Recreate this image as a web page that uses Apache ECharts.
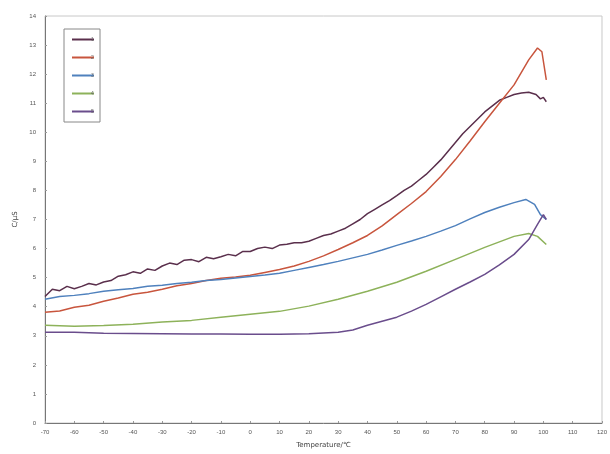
<!DOCTYPE html>
<html>
<head>
<meta charset="utf-8">
<script src="https://cdn.jsdelivr.net/npm/echarts@6/dist/echarts.min.js"></script>
<style>
html,body{margin:0;padding:0;background:#fff;}
#chart{width:610px;height:454px;}
</style>
</head>
<body>
<div id="chart"></div>
<script>
// Conductivity vs temperature for five samples
const seriesNames = ['1', '2', '3', '4', '5'];
const xTicks = { min: -70, max: 120, step: 10 };
const yTicks = { min: 0, max: 14, step: 1 };

const tempA = [-70,-67.5,-65,-62.5,-60,-57.5,-55,-52.5,-50,-47.5,-45,-42.5,-40,-37.5,-35,-32.5,-30,-27.5,-25,-22.5,-20,-17.5,-15,-12.5,-10,-7.5,-5,-2.5,0,2.5,5,7.5,10,12.5,15,17.5,20,22.5,25,27.5,30,32.5,35,37.5,40,42.5,45,47.5,50,52.5,55,57.5,60,62.5,65,67.5,70,72.5,75,77.5,80,82.5,85,87.5,90,92.5,95,97.5,99,100,101];
const condA = [4.35,4.6,4.55,4.7,4.62,4.7,4.8,4.75,4.85,4.9,5.05,5.1,5.2,5.15,5.3,5.25,5.4,5.5,5.45,5.6,5.62,5.55,5.7,5.65,5.72,5.8,5.75,5.9,5.9,6.0,6.05,6.0,6.12,6.15,6.2,6.2,6.25,6.35,6.45,6.5,6.6,6.7,6.85,7.0,7.2,7.35,7.5,7.65,7.82,8.0,8.15,8.35,8.55,8.8,9.05,9.35,9.65,9.95,10.2,10.45,10.7,10.9,11.1,11.2,11.3,11.35,11.38,11.3,11.15,11.2,11.05];

const tempB = [-70,-65,-60,-55,-50,-45,-40,-35,-30,-25,-20,-15,-10,-5,0,5,10,15,20,25,30,35,40,45,50,55,60,65,70,75,80,85,90,95,98,99.5,101];
const condB = [3.81,3.85,3.98,4.05,4.19,4.3,4.43,4.5,4.6,4.72,4.8,4.9,4.98,5.02,5.08,5.18,5.28,5.4,5.56,5.75,5.97,6.2,6.45,6.78,7.17,7.55,7.96,8.48,9.06,9.7,10.36,11.0,11.63,12.49,12.9,12.77,11.8];

const tempC = [-70,-65,-60,-55,-50,-45,-40,-35,-30,-25,-20,-15,-10,-5,0,5,10,15,20,25,30,35,40,45,50,55,60,65,70,75,80,85,90,94,97,99,101];
const condC = [4.26,4.35,4.39,4.45,4.53,4.58,4.63,4.7,4.74,4.8,4.84,4.9,4.94,4.99,5.04,5.09,5.15,5.25,5.35,5.45,5.56,5.68,5.8,5.95,6.11,6.26,6.42,6.6,6.79,7.02,7.24,7.42,7.58,7.69,7.52,7.17,7.0];

const tempD = [-70,-60,-50,-40,-30,-20,-10,0,10,20,30,40,50,60,70,80,90,95,98,101];
const condD = [3.36,3.33,3.35,3.4,3.47,3.53,3.64,3.74,3.84,4.02,4.26,4.53,4.84,5.22,5.63,6.04,6.42,6.52,6.42,6.14];

const tempE = [-70,-60,-50,-40,-30,-20,-10,0,10,20,30,35,40,45,50,55,60,65,70,75,80,85,90,95,98,100,101];
const condE = [3.12,3.12,3.09,3.08,3.07,3.06,3.06,3.05,3.05,3.07,3.12,3.2,3.36,3.5,3.64,3.85,4.08,4.34,4.6,4.85,5.11,5.44,5.8,6.31,6.83,7.17,7.0];

const temps = [tempA, tempB, tempC, tempD, tempE];
const conds = [condA, condB, condC, condD, condE];
const colors = ['#5a2f4c', '#c8553d', '#4f81bd', '#8db25a', '#6a4d8c'];

function pairs(t, v) { return t.map((x, i) => [x, v[i]]); }

const chart = echarts.init(document.getElementById('chart'), null, { renderer: 'canvas' });
chart.setOption({
  animation: false,
  backgroundColor: '#fff',
  grid: { left: 45, right: 8, top: 16, bottom: 30, show: true, borderColor: '#c8c8c8', borderWidth: 1 },
  legend: {
    orient: 'vertical',
    left: 64, top: 29,
    width: 44,
    padding: [8, 6, 8, 8],
    itemGap: 13,
    itemWidth: 22, itemHeight: 8,
    borderColor: '#888', borderWidth: 1,
    icon: 'path://M0,3.5 L22,3.5 L22,5.5 L0,5.5 Z',
    textStyle: { fontSize: 5, color: '#666', padding: [0, 0, 0, -8] },
    data: seriesNames
  },
  xAxis: {
    type: 'value',
    min: xTicks.min, max: xTicks.max, interval: xTicks.step,
    name: 'Temperature/℃', nameLocation: 'middle', nameGap: 19,
    nameTextStyle: { fontSize: 7, color: '#444', fontFamily: 'DejaVu Sans' },
    axisLine: { onZero: false, lineStyle: { color: '#777' } },
    axisTick: { show: true, inside: true, length: 2, lineStyle: { color: '#999' } },
    axisLabel: { fontSize: 6, color: '#555', margin: 6 },
    splitLine: { show: false }
  },
  yAxis: {
    type: 'value',
    min: yTicks.min, max: yTicks.max, interval: yTicks.step,
    name: 'C/μS', nameLocation: 'middle', nameGap: 24,
    nameTextStyle: { fontSize: 7, color: '#444', fontFamily: 'DejaVu Sans' },
    axisLine: { show: true, onZero: false, lineStyle: { color: '#777' } },
    axisTick: { show: true, inside: true, length: 2, lineStyle: { color: '#999' } },
    axisLabel: { fontSize: 6, color: '#555', margin: 9 },
    splitLine: { show: false }
  },
  series: seriesNames.map((n, i) => ({
    name: n,
    type: 'line',
    data: pairs(temps[i], conds[i]),
    showSymbol: false,
    smooth: false,
    lineStyle: { width: 1.5, color: colors[i] },
    itemStyle: { color: colors[i] }
  }))
});
</script>
</body>
</html>
